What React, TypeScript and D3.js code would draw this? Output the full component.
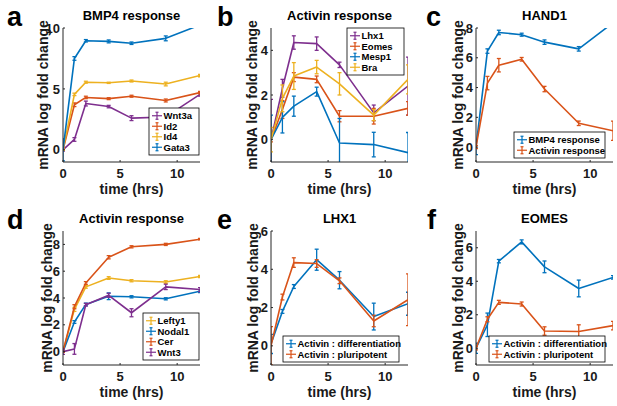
import React from 'react';
import * as d3 from 'd3';

// sampling times (hrs)
const TIME_HRS = [0, 1, 2, 4, 6, 9, 12];

const BLUE = '#0072BD';
const ORANGE = '#D95319';
const YELLOW = '#EDB120';
const PURPLE = '#7E2F8E';

// a: BMP4 response
const bmp4Wnt3a = [0, 0.85, 3.8, 3.55, 2.6, 2.7, 4.55];
const bmp4Wnt3aErr = [0.1, 0.15, 0.2, 0.1, 0.2, 0.15, 0.15];
const bmp4Id2 = [0, 3.7, 4.3, 4.2, 4.4, 4.05, 4.7];
const bmp4Id2Err = [0.05, 0.15, 0.1, 0.08, 0.08, 0.12, 0.1];
const bmp4Id4 = [0, 4.55, 5.55, 5.5, 5.65, 5.4, 6.1];
const bmp4Id4Err = [0.05, 0.1, 0.08, 0.05, 0.08, 0.15, 0.1];
const bmp4Gata3 = [0, 7.5, 8.95, 8.9, 8.75, 9.15, 10.25];
const bmp4Gata3Err = [0.9, 0.15, 0.1, 0.12, 0.1, 0.2, 0.1];

// b: Activin response
const actLhx1 = [0, 2.3, 4.35, 4.3, 3.35, 1.2, 2.4];
const actLhx1Err = [1.8, 0.4, 0.3, 0.3, 0.12, 0.35, 1.3];
const actEomes = [0, 1.35, 2.8, 2.7, 1.05, 1.05, 1.4];
const actEomesErr = [0.1, 0.4, 0.2, 0.15, 0.25, 0.35, 0.3];
const actMesp1 = [0, 1.0, 1.5, 2.15, -0.15, -0.22, -0.58];
const actMesp1Err = [1.1, 0.7, 0.45, 0.2, 1.1, 0.55, 0.9];
const actBra = [0, 1.85, 2.85, 3.25, 2.5, 1.1, 2.7];
const actBraErr = [0.55, 0.6, 0.6, 0.3, 0.5, 0.25, 0.65];

// c: HAND1
const hand1Bmp4 = [0, 6.45, 7.7, 7.55, 7.05, 6.6, 8.35];
const hand1Bmp4Err = [0.5, 0.15, 0.15, 0.1, 0.15, 0.15, 0.1];
const hand1Activin = [0, 4.3, 5.5, 5.9, 3.9, 1.6, 1.1];
const hand1ActivinErr = [0.1, 0.45, 0.45, 0.12, 0.18, 0.15, 0.65];

// d: Activin response
const actLefty1 = [0, 3.15, 4.83, 5.49, 5.29, 5.19, 5.61];
const actLefty1Err = [0.05, 0.15, 0.1, 0.1, 0.08, 0.1, 0.08];
const actNodal1 = [0, 2.21, 3.52, 4.13, 4.09, 3.94, 4.5];
const actNodal1Err = [0.05, 0.1, 0.1, 0.25, 0.08, 0.08, 0.1];
const actCer = [0, 3.35, 5.12, 7.04, 7.82, 8.0, 8.39];
const actCerErr = [0.05, 0.15, 0.1, 0.12, 0.08, 0.08, 0.05];
const actWnt3 = [0, 0.2, 3.5, 4.2, 2.9, 4.83, 4.63];
const actWnt3Err = [0.2, 0.4, 0.1, 0.15, 0.3, 0.2, 0.15];

// e: LHX1
const lhx1Diff = [0.1, 1.8, 3.1, 4.5, 3.43, 1.53, 2.2];
const lhx1DiffErr = [0.5, 0.1, 0.1, 0.55, 0.45, 0.7, 0.6];
const lhx1Pluri = [0, 2.55, 4.35, 4.3, 3.4, 1.3, 2.41];
const lhx1PluriErr = [1.0, 0.15, 0.25, 0.2, 0.15, 0.3, 1.35];

// f: EOMES
const eomesDiff = [0, 1.4, 5.2, 6.35, 4.86, 3.57, 4.23];
const eomesDiffErr = [0.3, 0.7, 0.1, 0.12, 0.35, 0.5, 0.1];
const eomesPluri = [0, 1.73, 2.74, 2.64, 1.03, 1.0, 1.35];
const eomesPluriErr = [0.1, 0.15, 0.12, 0.12, 0.25, 0.4, 0.25];

interface Series {
  name: string;
  color: string;
  values: number[];
  errs: number[];
}

interface PanelCfg {
  letter: string;
  title: string;
  left: number;
  top: number;
  yDomain: [number, number];
  yTicks: number[];
  labelGap: number;
  letterX: number;
  legend: { x: number; y: number; w: number };
  series: Series[];
}

const W = 137;
const H = 134;
const FONT = '"Liberation Sans", Arial, Helvetica, sans-serif';

const panels: PanelCfg[] = [
  {
    letter: 'a', title: 'BMP4 response', left: 63, top: 28, yDomain: [-1, 10], yTicks: [0, 5, 10],
    labelGap: 15, letterX: 7, legend: { x: 149, y: 108, w: 50 },
    series: [
      { name: 'Wnt3a', color: PURPLE, values: bmp4Wnt3a, errs: bmp4Wnt3aErr },
      { name: 'Id2', color: ORANGE, values: bmp4Id2, errs: bmp4Id2Err },
      { name: 'Id4', color: YELLOW, values: bmp4Id4, errs: bmp4Id4Err },
      { name: 'Gata3', color: BLUE, values: bmp4Gata3, errs: bmp4Gata3Err },
    ],
  },
  {
    letter: 'b', title: 'Activin response', left: 271, top: 28, yDomain: [-1, 5], yTicks: [0, 2, 4],
    labelGap: 14, letterX: 217, legend: { x: 347, y: 28, w: 57 },
    series: [
      { name: 'Lhx1', color: PURPLE, values: actLhx1, errs: actLhx1Err },
      { name: 'Eomes', color: ORANGE, values: actEomes, errs: actEomesErr },
      { name: 'Mesp1', color: BLUE, values: actMesp1, errs: actMesp1Err },
      { name: 'Bra', color: YELLOW, values: actBra, errs: actBraErr },
    ],
  },
  {
    letter: 'c', title: 'HAND1', left: 476, top: 28, yDomain: [-1, 8], yTicks: [0, 2, 4, 6, 8],
    labelGap: 13, letterX: 426, legend: { x: 514, y: 132, w: 91 },
    series: [
      { name: 'BMP4 response', color: BLUE, values: hand1Bmp4, errs: hand1Bmp4Err },
      { name: 'Activin response', color: ORANGE, values: hand1Activin, errs: hand1ActivinErr },
    ],
  },
  {
    letter: 'd', title: 'Activin response', left: 63, top: 231, yDomain: [-1, 9], yTicks: [0, 2, 4, 6, 8],
    labelGap: 11, letterX: 7, legend: { x: 143, y: 313, w: 56 },
    series: [
      { name: 'Lefty1', color: YELLOW, values: actLefty1, errs: actLefty1Err },
      { name: 'Nodal1', color: BLUE, values: actNodal1, errs: actNodal1Err },
      { name: 'Cer', color: ORANGE, values: actCer, errs: actCerErr },
      { name: 'Wnt3', color: PURPLE, values: actWnt3, errs: actWnt3Err },
    ],
  },
  {
    letter: 'e', title: 'LHX1', left: 271, top: 231, yDomain: [-1, 6], yTicks: [0, 2, 4, 6],
    labelGap: 13, letterX: 217, legend: { x: 283, y: 336, w: 116 },
    series: [
      { name: 'Activin : differentiation', color: BLUE, values: lhx1Diff, errs: lhx1DiffErr },
      { name: 'Activin : pluripotent', color: ORANGE, values: lhx1Pluri, errs: lhx1PluriErr },
    ],
  },
  {
    letter: 'f', title: 'EOMES', left: 476, top: 231, yDomain: [-1, 7], yTicks: [0, 2, 4, 6],
    labelGap: 13, letterX: 427, legend: { x: 489, y: 336, w: 116 },
    series: [
      { name: 'Activin : differentiation', color: BLUE, values: eomesDiff, errs: eomesDiffErr },
      { name: 'Activin : pluripotent', color: ORANGE, values: eomesPluri, errs: eomesPluriErr },
    ],
  },
];

const X_TICKS = [0, 5, 10];

const Panel: React.FC<{ cfg: PanelCfg }> = ({ cfg }) => {
  const x = d3.scaleLinear().domain([0, 12]).range([0, W]);
  const y = d3.scaleLinear().domain(cfg.yDomain).range([H, 0]);
  const clipId = `clip-${cfg.letter}`;
  const line = d3.line<number>()
    .x((_, i) => x(TIME_HRS[i]))
    .y(d => y(d));

  const rowH = 10.5;
  const lg = cfg.legend;
  const lgH = cfg.series.length * rowH + 5;

  return (
    <g>
      <text x={cfg.letterX} y={cfg.top - 2.5} fontSize={27} fontWeight="bold" fill="#000">{cfg.letter}</text>
      <g transform={`translate(${cfg.left},${cfg.top})`}>
        <defs>
          <clipPath id={clipId}>
            <rect x={0} y={0} width={W} height={H} />
          </clipPath>
        </defs>
        <text x={W / 2} y={-8} textAnchor="middle" fontSize={13} fontWeight="bold" fill="#000">{cfg.title}</text>

        {/* data */}
        <g clipPath={`url(#${clipId})`}>
          {cfg.series.map(s => (
            <g key={s.name}>
              <path d={line(s.values) || ''} fill="none" stroke={s.color} strokeWidth={1.6} strokeLinejoin="round" />
              {s.values.map((v, i) => {
                const cx = x(TIME_HRS[i]);
                const y1 = y(v - s.errs[i]);
                const y2 = y(v + s.errs[i]);
                return (
                  <g key={i} stroke={s.color} strokeWidth={1.3}>
                    <line x1={cx} x2={cx} y1={y1} y2={y2} />
                    <line x1={cx - 2} x2={cx + 2} y1={y1} y2={y1} />
                    <line x1={cx - 2} x2={cx + 2} y1={y2} y2={y2} />
                  </g>
                );
              })}
            </g>
          ))}
        </g>

        {/* axes */}
        <line x1={0} x2={0} y1={0} y2={H} stroke="#262626" strokeWidth={1} />
        <line x1={0} x2={W} y1={H} y2={H} stroke="#262626" strokeWidth={1} />
        {cfg.yTicks.map(t => (
          <g key={t}>
            <line x1={0} x2={2} y1={y(t)} y2={y(t)} stroke="#262626" />
            <text x={-3} y={y(t) + 4.6} textAnchor="end" fontSize={13} fontWeight="bold" fill="#1a1a1a">{t}</text>
          </g>
        ))}
        {X_TICKS.map(t => (
          <g key={t}>
            <line x1={x(t)} x2={x(t)} y1={H} y2={H - 2} stroke="#262626" />
            <text x={x(t)} y={H + 16} textAnchor="middle" fontSize={13} fontWeight="bold" fill="#1a1a1a">{t}</text>
          </g>
        ))}
        <text x={W / 2} y={H + 32} textAnchor="middle" fontSize={14} fontWeight="bold" fill="#1a1a1a">time (hrs)</text>
        <text transform={`translate(${-cfg.labelGap},${H / 2}) rotate(-90)`} textAnchor="middle" fontSize={14} fontWeight="bold" fill="#1a1a1a">mRNA log fold change</text>
      </g>

      {/* legend */}
      <g transform={`translate(${lg.x},${lg.y})`}>
        <rect x={0} y={0} width={lg.w} height={lgH} fill="#fff" stroke="#000" strokeWidth={0.8} />
        {cfg.series.map((s, i) => {
          const cy = 2.5 + rowH * (i + 0.5);
          return (
            <g key={s.name}>
              <g stroke={s.color} strokeWidth={1.2}>
                <line x1={3} x2={13} y1={cy} y2={cy} />
                <line x1={8} x2={8} y1={cy - 3.5} y2={cy + 3.5} />
                <line x1={6.5} x2={9.5} y1={cy - 3.5} y2={cy - 3.5} />
                <line x1={6.5} x2={9.5} y1={cy + 3.5} y2={cy + 3.5} />
              </g>
              <text x={14.5} y={cy + 3.4} fontSize={9.5} fontWeight="bold" fill="#000">{s.name}</text>
            </g>
          );
        })}
      </g>
    </g>
  );
};

export default function App() {
  return (
    <svg width={617} height={406} style={{ position: 'absolute', left: 0, top: 0, background: '#fff' }} fontFamily={FONT}>
      <rect width={617} height={406} fill="#fff" />
      {panels.map(p => <Panel key={p.letter} cfg={p} />)}
    </svg>
  );
}
